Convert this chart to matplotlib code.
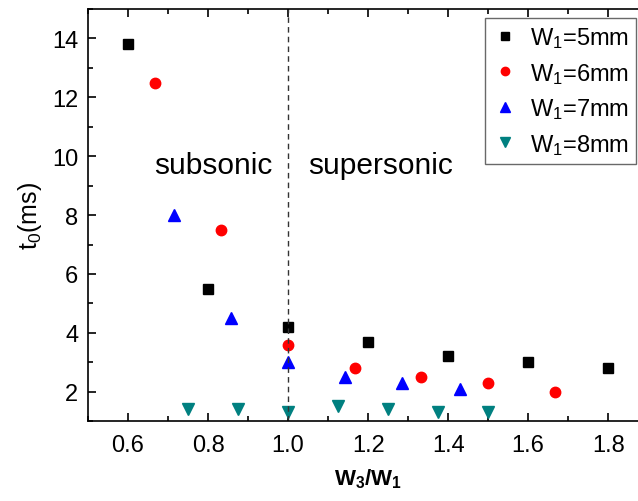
import matplotlib
matplotlib.use("Agg")
import matplotlib.pyplot as plt
from matplotlib.ticker import MultipleLocator

plt.rcParams["font.family"] = ["Liberation Sans", "DejaVu Sans"]
plt.rcParams["mathtext.fontset"] = "custom"
plt.rcParams["mathtext.rm"] = "Liberation Sans"
plt.rcParams["mathtext.bf"] = "Liberation Sans:bold"
plt.rcParams["mathtext.default"] = "regular"

# W3/W1 ratios and t0 (ms) for each W1
x_w5 = [0.6, 0.8, 1.0, 1.2, 1.4, 1.6, 1.8]
t_w5 = [13.8, 5.5, 4.2, 3.7, 3.2, 3.0, 2.8]

x_w6 = [4 / 6, 5 / 6, 1.0, 7 / 6, 8 / 6, 9 / 6, 10 / 6]
t_w6 = [12.5, 7.5, 3.6, 2.8, 2.5, 2.3, 2.0]

x_w7 = [5 / 7, 6 / 7, 1.0, 8 / 7, 9 / 7, 10 / 7]
t_w7 = [8.0, 4.5, 3.0, 2.5, 2.3, 2.1]

x_w8 = [6 / 8, 7 / 8, 1.0, 9 / 8, 10 / 8, 11 / 8, 12 / 8]
t_w8 = [1.4, 1.4, 1.3, 1.5, 1.4, 1.3, 1.3]

labels = ["W$_1$=5mm", "W$_1$=6mm", "W$_1$=7mm", "W$_1$=8mm"]

fig = plt.figure(figsize=(6.38, 5.02), dpi=100)
ax = fig.add_axes([0.138, 0.159, 0.878, 0.821])

ax.plot(x_w5, t_w5, "s", color="black", ms=7, label=labels[0])
ax.plot(x_w6, t_w6, "o", color="red", ms=7.5, label=labels[1])
ax.plot(x_w7, t_w7, "^", color="blue", ms=9, label=labels[2])
ax.plot(x_w8, t_w8, "v", color="#008080", ms=9, label=labels[3])

ax.axvline(1.0, color="#333333", ls=(0, (4, 3)), lw=1)

ax.text(0.665, 9.7, "subsonic", fontsize=21.5, va="center")
ax.text(1.05, 9.7, "supersonic", fontsize=21.5, va="center")

ax.set_xlim(0.5, 1.9)
ax.set_ylim(1.0, 15.0)
ax.xaxis.set_major_locator(MultipleLocator(0.2))
ax.xaxis.set_minor_locator(MultipleLocator(0.1))
ax.yaxis.set_major_locator(MultipleLocator(2))
ax.yaxis.set_minor_locator(MultipleLocator(1))
ax.xaxis.set_major_formatter(plt.FuncFormatter(lambda v, p: f"{v:.1f}"))

ax.tick_params(which="both", direction="in", top=True, right=True,
               labelsize=17, width=1.2)
ax.tick_params(axis="x", pad=9)
ax.tick_params(axis="y", pad=7)
ax.tick_params(which="major", length=6)
ax.tick_params(which="minor", length=3.5)
for s in ax.spines.values():
    s.set_linewidth(1.2)

ax.set_xlabel("W$_3$/W$_1$", fontsize=16, fontweight="bold", labelpad=8)
ax.set_ylabel("t$_0$(ms)", fontsize=18, labelpad=6)

leg = ax.legend(loc="upper right", bbox_to_anchor=(636 / 638, 1 - 19 / 502),
                bbox_transform=fig.transFigure, borderaxespad=0,
                fontsize=17, frameon=True, fancybox=False,
                edgecolor="#444444", borderpad=0.3, handletextpad=0.5,
                labelspacing=0.45, markerscale=0.8, handlelength=1.1)
leg.get_frame().set_linewidth(1)

fig.savefig("out.png", dpi=100)
